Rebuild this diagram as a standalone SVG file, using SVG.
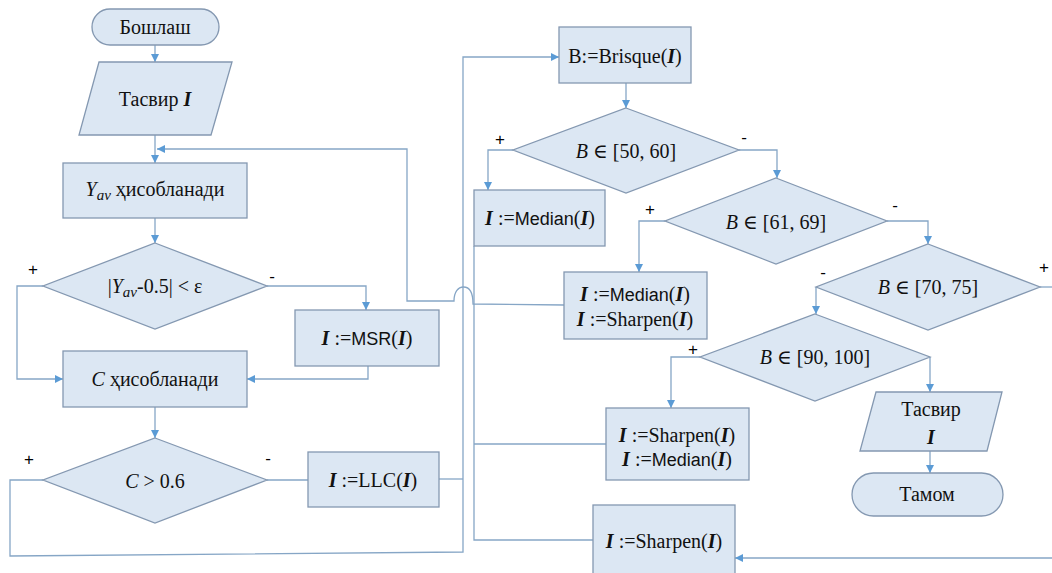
<svg xmlns="http://www.w3.org/2000/svg" width="1052" height="573" viewBox="0 0 1052 573">
  <defs>
    <marker id="arr" viewBox="0 0 10 10" refX="10" refY="5" markerWidth="8" markerHeight="8" markerUnits="userSpaceOnUse" orient="auto">
      <path d="M0,0 L10,5 L0,10 z" fill="#5b9bd5"/>
    </marker>
    <style>
      .shape { fill: #dce7f3; stroke: #8498b1; stroke-width: 1.3; }
      .conn path { fill: none; stroke: #86a6c6; stroke-width: 1.3; }
      .arrow { marker-end: url(#arr); }
      .t { font-family: 'Liberation Serif', 'DejaVu Serif', serif; font-size: 20px; fill: #111; text-anchor: middle; }
      .sans { font-family: 'Liberation Sans', sans-serif; }
      .lbl { font-family: 'Liberation Sans', sans-serif; font-size: 17px; fill: #000; text-anchor: middle; }
      .bi { font-weight: bold; font-style: italic; }
      .it { font-style: italic; }
    </style>
  </defs>
  <rect width="1052" height="573" fill="#ffffff"/>

  <!-- connectors -->
  <g id="connectors" class="conn">
    <path class="arrow" d="M155,45 V62"/>
    <path class="arrow" d="M155,135 V163"/>
    <!-- loop back from the filters to the mean brightness step, hopping over the trunk line -->
    <path class="arrow" d="M564,305 L473,304 C473,292 469,287 463.5,287 C458,287 454,292 454,301 L407,301 V149 H157"/>
    <path class="arrow" d="M155,218 V243"/>
    <path class="arrow" d="M267,286 H366 V310"/>
    <path class="arrow" d="M43,286 H17 V379 H63"/>
    <path class="arrow" d="M368,366 V379 H247"/>
    <path class="arrow" d="M155,407 V438"/>
    <path class="arrow" d="M43,480 H10 V556 L463,552 V57 H559"/>
    <path d="M267,480 H308"/>
    <path d="M439,479 H463"/>
    <path class="arrow" d="M626,83 V108"/>
    <path class="arrow" d="M513,150 H488 V190"/>
    <path class="arrow" d="M739,150 H777 V178"/>
    <path class="arrow" d="M665,221 H639 V272"/>
    <path class="arrow" d="M887,221 H928 V244"/>
    <path class="arrow" d="M816,287 V314"/>
    <path d="M1040,287 H1052"/>
    <path class="arrow" d="M700,357 H671 V408"/>
    <path class="arrow" d="M930,357 V392"/>
    <path class="arrow" d="M930,451 V473"/>
    <path class="arrow" d="M1052,558 H735"/>
    <path d="M474,246 V540 H593"/>
    <path d="M606,444 H474"/>
  </g>

  <!-- branch labels -->
  <g id="labels">
    <text class="lbl" x="33" y="275">+</text>
    <text class="lbl" x="272" y="282">-</text>
    <text class="lbl" x="29" y="465">+</text>
    <text class="lbl" x="268" y="464">-</text>
    <text class="lbl" x="500" y="145">+</text>
    <text class="lbl" x="744" y="143">-</text>
    <text class="lbl" x="650" y="215">+</text>
    <text class="lbl" x="895" y="211">-</text>
    <text class="lbl" x="823" y="278">-</text>
    <text class="lbl" x="1044" y="273">+</text>
    <text class="lbl" x="693" y="355">+</text>
  </g>

  <g id="start">
    <rect class="shape" x="92" y="9" width="127" height="36" rx="18"/>
    <text class="t" x="155" y="34">Бошлаш</text>
  </g>

  <g id="input">
    <polygon class="shape" points="99,62 232,62 211,135 79,135"/>
    <text class="t" x="155" y="106">Тасвир <tspan class="bi">I</tspan></text>
  </g>

  <g id="mean">
    <rect class="shape" x="63" y="163" width="184" height="55"/>
    <text class="t" x="155" y="196"><tspan class="it">Y</tspan><tspan class="it" font-size="15" dy="4">av</tspan><tspan dy="-4">  ҳисобланади</tspan></text>
  </g>

  <g id="check-mean">
    <polygon class="shape" points="155,243 267,286 155,329 43,286"/>
    <text class="t" x="155" y="293">|<tspan class="it">Y</tspan><tspan class="it" font-size="15" dy="4">av</tspan><tspan dy="-4">-0.5| &lt; ε</tspan></text>
  </g>

  <g id="msr">
    <rect class="shape" x="295" y="310" width="144" height="56"/>
    <text class="t" x="367" y="345"><tspan class="bi">I</tspan> :=<tspan class="sans" font-size="18">MSR</tspan>(<tspan class="bi">I</tspan>)</text>
  </g>

  <g id="contrast">
    <rect class="shape" x="63" y="351" width="184" height="56"/>
    <text class="t" x="155" y="386"><tspan class="it">C</tspan>  ҳисобланади</text>
  </g>

  <g id="check-contrast">
    <polygon class="shape" points="155,438 267,480 155,523 43,480"/>
    <text class="t" x="155" y="488"><tspan class="it">C</tspan> &gt; 0.6</text>
  </g>

  <g id="llc">
    <rect class="shape" x="308" y="452" width="131" height="55"/>
    <text class="t" x="373" y="487"><tspan class="bi">I</tspan> :=LLC(<tspan class="bi">I</tspan>)</text>
  </g>

  <g id="brisque">
    <rect class="shape" x="559" y="27" width="132" height="56"/>
    <text class="t" x="625" y="63">B:=Brisque(<tspan class="bi">I</tspan>)</text>
  </g>

  <g id="check-50-60">
    <polygon class="shape" points="626,108 739,150 626,193 513,150"/>
    <text class="t" x="626" y="158"><tspan class="it">B</tspan> ∈ [50, 60]</text>
  </g>

  <g id="median">
    <rect class="shape" x="474" y="190" width="131" height="56"/>
    <text class="t" x="540" y="225"><tspan class="bi">I</tspan> :=<tspan class="sans" font-size="18">Median</tspan>(<tspan class="bi">I</tspan>)</text>
  </g>

  <g id="check-61-69">
    <polygon class="shape" points="776,178 887,221 776,264 665,221"/>
    <text class="t" x="776" y="229"><tspan class="it">B</tspan> ∈ [61, 69]</text>
  </g>

  <g id="median-sharpen">
    <rect class="shape" x="564" y="272" width="143" height="67"/>
    <text class="t" x="635" y="301"><tspan class="bi">I</tspan> :=<tspan class="sans" font-size="18">Median</tspan>(<tspan class="bi">I</tspan>)</text>
    <text class="t" x="635" y="326"><tspan class="bi">I</tspan> :=Sharpen(<tspan class="bi">I</tspan>)</text>
  </g>

  <g id="check-70-75">
    <polygon class="shape" points="928,244 1040,287 928,330 816,287"/>
    <text class="t" x="928" y="294"><tspan class="it">B</tspan> ∈ [70, 75]</text>
  </g>

  <g id="check-90-100">
    <polygon class="shape" points="815,314 930,357 815,401 700,357"/>
    <text class="t" x="815" y="364"><tspan class="it">B</tspan> ∈ [90, 100]</text>
  </g>

  <g id="sharpen-median">
    <rect class="shape" x="606" y="408" width="143" height="72"/>
    <text class="t" x="677" y="442"><tspan class="bi">I</tspan> :=Sharpen(<tspan class="bi">I</tspan>)</text>
    <text class="t" x="677" y="466"><tspan class="bi">I</tspan> :=<tspan class="sans" font-size="18">Median</tspan>(<tspan class="bi">I</tspan>)</text>
  </g>

  <g id="output">
    <polygon class="shape" points="876,392 1002,392 987,451 860,451"/>
    <text class="t" x="931" y="416">Тасвир</text>
    <text class="t bi" x="931" y="444">I</text>
  </g>

  <g id="end">
    <rect class="shape" x="852" y="473" width="151" height="43" rx="21.5"/>
    <text class="t" x="927" y="501">Тамом</text>
  </g>

  <g id="sharpen">
    <rect class="shape" x="593" y="505" width="142" height="72"/>
    <text class="t" x="664" y="548"><tspan class="bi">I</tspan> :=Sharpen(<tspan class="bi">I</tspan>)</text>
  </g>
</svg>
